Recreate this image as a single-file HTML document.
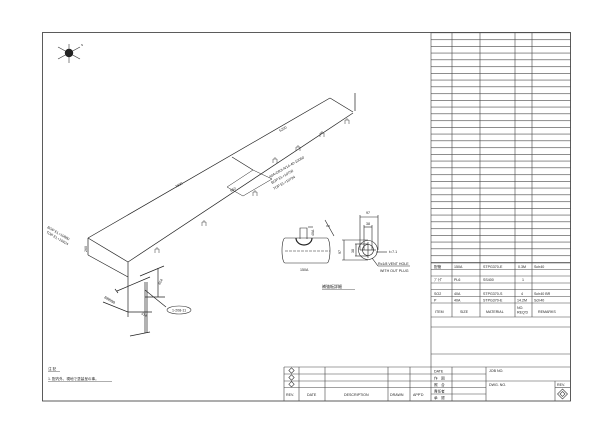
<!DOCTYPE html>
<html><head><meta charset="utf-8"><style>
html,body{margin:0;padding:0;background:#fff;}
svg{display:block;font-family:"Liberation Sans","Noto Sans CJK JP",sans-serif;}
</style></head><body>
<svg width="600" height="424" viewBox="0 0 600 424" xmlns="http://www.w3.org/2000/svg">
<defs>
<pattern id="rows" x="0" y="32.5" width="200" height="6.75" patternUnits="userSpaceOnUse">
<line x1="0" y1="0.3" x2="200" y2="0.3" stroke="#444" stroke-width="0.6"/>
</pattern>
</defs>
<rect width="600" height="424" fill="#fff"/>
<rect x="42.5" y="32.5" width="528" height="368.5" fill="none" stroke="#333" stroke-width="0.8"/>
<rect x="431" y="32.5" width="139.5" height="230" fill="url(#rows)"/>
<g stroke="#444" stroke-width="0.6" fill="none">
<line x1="431" y1="32.5" x2="431" y2="401"/>
<line x1="452" y1="32.5" x2="452" y2="317"/>
<line x1="480" y1="32.5" x2="480" y2="317"/>
<line x1="515" y1="32.5" x2="515" y2="317"/>
<line x1="532" y1="32.5" x2="532" y2="317"/>
<line x1="431" y1="263" x2="570" y2="263"/>
<line x1="431" y1="269.5" x2="570" y2="269.5"/>
<line x1="431" y1="276" x2="570" y2="276"/>
<line x1="431" y1="283" x2="570" y2="283"/>
<line x1="431" y1="289.5" x2="570" y2="289.5"/>
<line x1="431" y1="296.5" x2="570" y2="296.5"/>
<line x1="431" y1="303" x2="570" y2="303"/>
<line x1="431" y1="317" x2="570" y2="317"/>
<line x1="431" y1="327" x2="570" y2="327"/>
<line x1="431" y1="354" x2="570" y2="354"/>
<line x1="431" y1="367" x2="570" y2="367"/>
<line x1="452" y1="367" x2="452" y2="401"/>
<line x1="486" y1="367" x2="486" y2="401"/>
<line x1="431" y1="374" x2="486" y2="374"/>
<line x1="431" y1="381" x2="486" y2="381"/>
<line x1="431" y1="387.5" x2="486" y2="387.5"/>
<line x1="431" y1="394" x2="486" y2="394"/>
<line x1="486" y1="381" x2="570" y2="381"/>
<line x1="555" y1="381" x2="555" y2="401"/>
<line x1="555" y1="387.5" x2="570" y2="387.5"/>
<line x1="284" y1="367" x2="431" y2="367"/>
<line x1="284" y1="374" x2="431" y2="374"/>
<line x1="284" y1="381" x2="431" y2="381"/>
<line x1="284" y1="387.5" x2="431" y2="387.5"/>
<line x1="284" y1="367" x2="284" y2="401"/>
<line x1="299" y1="367" x2="299" y2="401"/>
<line x1="325" y1="367" x2="325" y2="401"/>
<line x1="388" y1="367" x2="388" y2="401"/>
<line x1="410" y1="367" x2="410" y2="401"/>
</g>
<g fill="none" stroke="#333" stroke-width="0.6">
<path d="M291.5,367.8 l2.7,2.7 l-2.7,2.7 l-2.7,-2.7z"/>
<path d="M291.5,374.8 l2.7,2.7 l-2.7,2.7 l-2.7,-2.7z"/>
<path d="M291.5,381.5 l2.7,2.7 l-2.7,2.7 l-2.7,-2.7z"/>
<path d="M562.5,389 l5,5 l-5,5 l-5,-5z"/>
<path d="M562.5,391.5 l2.5,2.5 l-2.5,2.5 l-2.5,-2.5z"/>
</g>
<g font-size="3.6" fill="#222">
<text x="434" y="268">配管</text><text x="454" y="268">150A</text><text x="483" y="268">STPG370-E</text><text x="518" y="268">0.3M</text><text x="534" y="268">Sch40</text>
<text x="434" y="281">ﾌﾟﾗｸﾞ</text><text x="454" y="281">PL6</text><text x="483" y="281">SS400</text><text x="522" y="281">1</text>
<text x="434" y="295">SO2</text><text x="454" y="295">40A</text><text x="483" y="295">STPG370-S</text><text x="521" y="295">4</text><text x="534" y="295">Sch40 BR</text>
<text x="434" y="301.5">P</text><text x="454" y="301.5">40A</text><text x="483" y="301.5">STPG370-E</text><text x="517" y="301.5">14.2M</text><text x="534" y="301.5">Sch40</text>
<text x="435" y="313">ITEM</text><text x="460" y="313">SIZE</text><text x="486" y="313">MATERIAL</text><text x="517" y="309">NO.</text><text x="517" y="313.5">REQ'D</text><text x="538" y="313">REMARKS</text>
<text x="434" y="372.5">DATE</text><text x="434" y="379.5">作　図</text><text x="434" y="386">照　合</text><text x="434" y="392.5">責任者</text><text x="434" y="399">承　認</text>
<text x="489" y="372">JOB NO.</text><text x="489" y="386">DWG. NO.</text><text x="557" y="386">REV.</text>
<text x="286" y="396">REV.</text><text x="307" y="396">DATE</text><text x="344" y="396">DESCRIPTION</text><text x="390" y="396">DRAWN</text><text x="413" y="396">APP'D</text>
<text x="48" y="370">注 記</text>
<text x="48" y="380">1. 配内外、現地で塗装呈の事。</text>
</g>
<line x1="48" y1="371.5" x2="60" y2="371.5" stroke="#333" stroke-width="0.4"/>
<line x1="48" y1="381.5" x2="112" y2="381.5" stroke="#333" stroke-width="0.4"/>
<g stroke="#333" stroke-width="0.6">
<line x1="58" y1="47" x2="80" y2="59"/><line x1="58" y1="59" x2="80" y2="47"/><line x1="69" y1="44" x2="69" y2="63"/>
</g>
<circle cx="69" cy="53" r="4.2" fill="#222"/>
<text x="81" y="46" font-size="3" fill="#333">N</text>
<g fill="none" stroke="#222" stroke-width="0.7">
<line x1="88" y1="238" x2="330" y2="98"/>
<line x1="128" y1="262" x2="353" y2="113"/>
<line x1="88" y1="238" x2="128" y2="262"/>
<line x1="330" y1="98" x2="353" y2="112"/>
<line x1="355" y1="93" x2="355" y2="111"/>
<line x1="88" y1="238" x2="88" y2="255"/>
<line x1="88" y1="255" x2="128" y2="277"/>
<line x1="128" y1="262" x2="128" y2="317"/>
<line x1="117" y1="291" x2="150" y2="277"/>
<line x1="115" y1="289" x2="118" y2="293"/>
<line x1="145" y1="282" x2="145" y2="333"/>
<line x1="147" y1="282" x2="147" y2="333"/>
<line x1="140" y1="276" x2="164" y2="266"/>
<line x1="158" y1="268" x2="158" y2="297"/>
<line x1="145" y1="297" x2="165" y2="297"/>
<line x1="128" y1="312" x2="152" y2="312"/>
<line x1="103" y1="302" x2="128" y2="312"/>
<line x1="145" y1="290" x2="166" y2="307"/>
<line x1="232" y1="157" x2="253" y2="170"/>
<path d="M227,187 L253,170 L272,179 L243,196 Z" stroke-width="0.5"/>
<line x1="130" y1="336" x2="150" y2="332"/>
</g>
<ellipse cx="179" cy="310" rx="12" ry="4" fill="#fff" stroke="#333" stroke-width="0.6"/>
<text x="172" y="311.5" font-size="3.6" fill="#222">1-208-11</text>
<g fill="none" stroke="#333" stroke-width="0.5">
<path d="M155,253 v-4 h4 v4 M157,249 v-2"/>
<path d="M202,226 v-4 h4 v4 M204,222 v-2"/>
<path d="M253,196 v-4 h4 v4 M255,192 v-2"/>
<path d="M273,163 v-4 h4 v4 M275,159 v-2"/>
<path d="M296,151 v-4 h4 v4 M298,147 v-2"/>
<path d="M320,137 v-4 h4 v4 M322,133 v-2"/>
<path d="M345,124 v-4 h4 v4 M347,120 v-2"/>
</g>
<g font-size="3.6" fill="#222">
<text transform="translate(176,188) rotate(-30)">7800</text>
<text transform="translate(280,132) rotate(-30)">5200</text>
<text transform="translate(231,192) rotate(-30)">650</text>
<text transform="translate(270,178) rotate(-30)">40A-DR3-A/14-40-10060</text>
<text transform="translate(272,184) rotate(-30)">BOP EL+10750</text>
<text transform="translate(274,190) rotate(-30)">TOP EL+10794</text>
<text transform="translate(47,228) rotate(30)">BOP EL+10880</text>
<text transform="translate(46,233) rotate(30)">TOP EL+10924</text>
<text transform="translate(87,252) rotate(-90)">260</text>
<text transform="translate(160,285) rotate(-60)">604</text>
<text transform="translate(141,314) rotate(30)">314</text>
<text transform="translate(104,298) rotate(30)">BBBBB</text>
</g>
<g fill="none" stroke="#222" stroke-width="0.6">
<path d="M285,238 h42 a3,12.5 0 0 1 0,25 h-42 a3,12.5 0 0 1 0,-25z"/>
<line x1="285" y1="251" x2="330" y2="251" stroke-dasharray="3,1"/>
<path d="M300,239 v-11 h7 v11"/>
<path d="M296,238 a8,7 0 0 0 16,0" stroke-width="1.2"/>
<line x1="308" y1="227" x2="313" y2="227"/>
<line x1="325" y1="220" x2="334" y2="236"/>
<line x1="330" y1="226" x2="326" y2="226"/>
<circle cx="368" cy="250" r="9.5"/>
<circle cx="368" cy="250" r="5.5"/>
<line x1="360" y1="250" x2="376" y2="250"/><line x1="368" y1="242" x2="368" y2="258"/>
<line x1="360" y1="215" x2="360" y2="250"/><line x1="378" y1="215" x2="378" y2="250"/>
<line x1="360" y1="217" x2="378" y2="217"/>
<line x1="364" y1="225" x2="364" y2="250"/><line x1="372" y1="225" x2="372" y2="250"/>
<line x1="364" y1="227" x2="372" y2="227"/>
<line x1="342" y1="240" x2="368" y2="240"/><line x1="342" y1="260" x2="368" y2="260"/>
<line x1="344" y1="240" x2="344" y2="260"/>
<line x1="355" y1="244" x2="368" y2="244"/><line x1="355" y1="256" x2="368" y2="256"/>
<line x1="356" y1="244" x2="356" y2="256"/>
<line x1="376" y1="252" x2="387" y2="252"/>
<line x1="372" y1="258" x2="378" y2="266"/>
<line x1="378" y1="266" x2="410" y2="266"/>
</g>
<g font-size="3.6" fill="#222">
<text x="300" y="271">150A</text>
<text transform="translate(314,236) rotate(-90)">40A</text>
<text x="366" y="214">97</text><text x="366" y="225">38</text>
<text transform="translate(341,254) rotate(-90)">97</text>
<text transform="translate(354,253) rotate(-90)">38</text>
<text x="389" y="253">t=7.1</text>
<text x="378" y="265">Rc1/8 VENT HOLE</text>
<text x="380" y="272">WITH OUT PLUG</text>
<text x="322" y="288" font-size="4">補強板詳細</text>
</g>
<line x1="322" y1="289.5" x2="355" y2="289.5" stroke="#333" stroke-width="0.4"/>
</svg>
</body></html>
